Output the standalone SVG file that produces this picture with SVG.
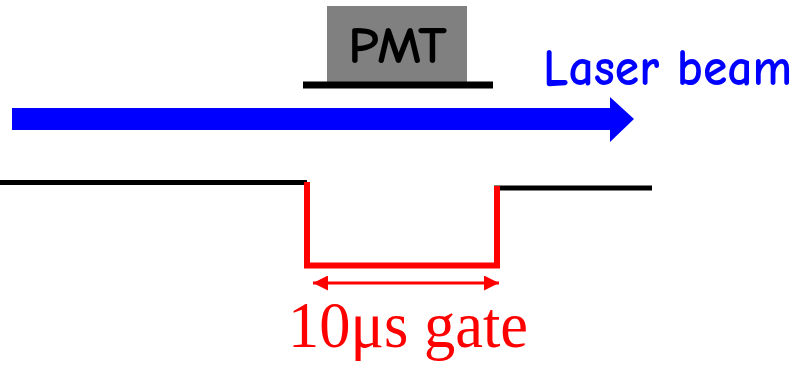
<svg xmlns="http://www.w3.org/2000/svg" width="808" height="368" viewBox="0 0 808 368">
<style>
.sig{fill:none;stroke-linecap:butt;stroke-linejoin:miter}
.blk{stroke:#000;stroke-width:5}
.red{stroke:#f00;stroke-width:6}
.comic{font-family:"Comic Neue","Comic Sans MS","Noto Sans","DejaVu Sans",sans-serif;font-weight:bold}
</style>
<defs>
<marker id="rh" viewBox="0 0 10 10" refX="10" refY="5" markerWidth="5" markerHeight="5" orient="auto-start-reverse" markerUnits="strokeWidth">
<path d="M0,0 L10,5 L0,10 z" fill="#f00"/>
</marker>
</defs>
<rect width="808" height="368" fill="#fff"/>
<g id="pmt">
<rect x="327" y="6" width="140" height="77" fill="#808080"/>
<line x1="303" y1="85" x2="493" y2="85" stroke="#000" stroke-width="7"/>
<text x="348" y="63" class="comic" font-size="52" fill="#000" textLength="99" lengthAdjust="spacingAndGlyphs">PMT</text>
</g>
<g id="laser">
<path d="M12,108 H610 V97 L634,119 L610,142 V130 H12 Z" fill="#0000ff"/>
<text x="543" y="85" class="comic" font-size="53" fill="#0000ff" textLength="249" lengthAdjust="spacingAndGlyphs">Laser beam</text>
</g>
<g id="connectors">
<line class="sig blk" x1="0" y1="182.5" x2="307" y2="182.5"/>
<line class="sig blk" x1="494" y1="188" x2="652" y2="188"/>
<path class="sig red" d="M307,182 V265.5 H497 V186"/>
<line x1="313" y1="283" x2="499" y2="283" stroke="#f00" stroke-width="3" marker-start="url(#rh)" marker-end="url(#rh)"/>
</g>
<g id="gate">
<text x="288" y="347" font-family="'Liberation Serif','Times New Roman',serif" font-size="66" fill="#f00" textLength="240" lengthAdjust="spacingAndGlyphs">10μs gate</text>
</g>
</svg>
